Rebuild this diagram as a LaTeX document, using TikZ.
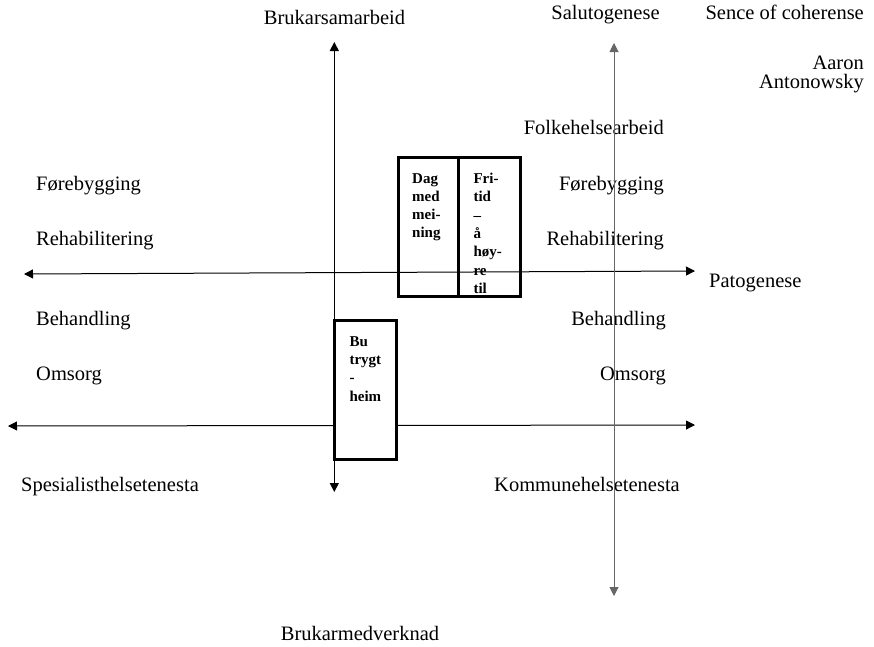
\documentclass[tikz,border=0pt]{standalone}
\usepackage{fontspec}
\setmainfont{Liberation Serif}
\usetikzlibrary{positioning, arrows.meta}

\begin{document}
\fontsize{20.5}{19}\selectfont
\begin{tikzpicture}[
				x=1pt, y=-1pt,
				>={Triangle[length=9pt, width=9pt]},
				akse/.style={<->, line width=1pt},
				merk/.style={inner sep=0pt},
				tiltak/.style={draw, line width=3pt, rectangle, inner sep=0pt, outer sep=0pt, minimum height=139pt},
				tiltaktekst/.style={font=\fontsize{15}{18.3}\selectfont\bfseries, align=left, inner sep=0pt, anchor=north west}]

			\useasboundingbox (0,0) rectangle (874,646);

			% akser
			\coordinate (vest_a) at (24,274);
			\coordinate (aust_a) at (695,271);
			\coordinate (vest_b) at (8,426);
			\coordinate (aust_b) at (695,425);
			\coordinate (topp_a) at (334.3,42);
			\coordinate (botn_a) at (334.3,492);
			\coordinate (topp_b) at (614,43);
			\coordinate (botn_b) at (614,596);

			\node[merk, anchor=base] (brukarsamarbeid) at (334.5,24) {Brukarsamarbeid};
			\node[merk, anchor=base] (salutogenese) at (605.5,19) {Salutogenese};
			\node[merk, anchor=base east] (coherense) at (864,19) {Sence of coherense};
			\node[merk, anchor=north east, align=right] (antonowsky) at (864,56) {Aaron\\Antonowsky};
			\node[merk, anchor=base east] (folkehelse) at (664,134) {Folkehelsearbeid};

			\node[merk, anchor=base west] (forebygging_v) at (36,190) {Førebygging};
			\node[merk, anchor=base west] (rehab_v) at (36,245) {Rehabilitering};
			\node[merk, anchor=base west] (behandling_v) at (36,325) {Behandling};
			\node[merk, anchor=base west] (omsorg_v) at (36,380) {Omsorg};

			\node[merk, anchor=base east] (forebygging_h) at (664,190) {Førebygging};
			\node[merk, anchor=base east] (rehab_h) at (664,245) {Rehabilitering};
			\node[merk, anchor=base east] (behandling_h) at (666,325) {Behandling};
			\node[merk, anchor=base east] (omsorg_h) at (666,380) {Omsorg};

			\node[merk, anchor=base west] (patogenese) at (709,287) {Patogenese};
			\node[merk, anchor=base west] (spesialist) at (21,491) {Spesialisthelsetenesta};
			\node[merk, anchor=base west] (kommune) at (494,491) {Kommunehelsetenesta};
			\node[merk, anchor=base] (brukarmedverknad) at (360,640) {Brukarmedverknad};

			\draw[akse] (vest_a) -- (aust_a);
			\draw[akse] (vest_b) -- (aust_b);
			\draw[akse] (topp_a) -- (botn_a);
			\draw[akse, color=black!60] (topp_b) -- (botn_b);

			% tiltak
			\node[tiltak, anchor=north west, minimum width=60.3pt] (dag) at (398,157) {};
			\node[tiltak, anchor=west, minimum width=62.4pt, right=0pt of dag] (fritid) {};
			\node[tiltak, anchor=north west, fill=white, minimum width=62.4pt, minimum height=139.4pt] (bu) at (334.3,320.3) {};

			\node[tiltaktekst, below right=16pt and 14pt of dag.north west] (dagtekst) {Dag\\med\\mei-\\ning};
			\node[tiltaktekst, below right=16pt and 15pt of fritid.north west] (fritidtekst) {Fri-\\tid\\–\\å\\høy-\\re\\til};
			\node[tiltaktekst, below right=16pt and 15pt of bu.north west] (butekst) {Bu\\trygt\\-\\heim};

		\end{tikzpicture}
\end{document}
